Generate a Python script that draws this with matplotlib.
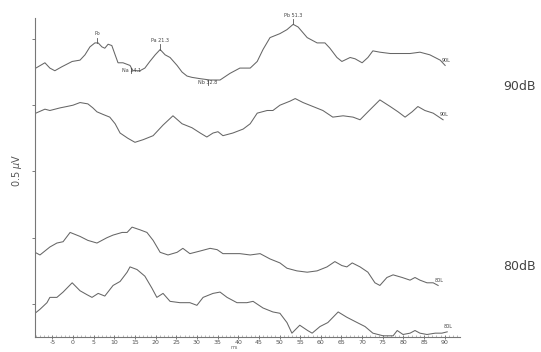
import matplotlib
matplotlib.use("Agg")
import matplotlib.pyplot as plt
import numpy as np

# latency (ms) and amplitude (uV, relative to each trace's baseline)
t_90a = [-9.0, -6.8, -5.6, -4.4, -2.7, -0.2, 1.7, 2.9, 4.1, 5.3, 6.1, 7.0, 7.7, 8.5, 9.4,
         10.2, 10.9, 12.1, 13.8, 14.5, 16.2, 17.4, 18.6, 19.9, 21.1, 22.3, 23.5, 25.2, 26.4,
         27.6, 28.8, 30.8, 33.2, 35.6, 38.0, 40.4, 42.9, 44.6, 46.0, 47.7, 50.1, 51.8, 53.3,
         54.5, 56.7, 59.1, 61.0, 62.2, 63.9, 65.1, 67.1, 68.3, 70.0, 71.4, 72.6, 74.3, 76.8,
         79.2, 81.6, 84.0, 86.4, 88.9, 90.1]
a_90a = [0.0, 0.04, 0.0, -0.02, 0.01, 0.05, 0.06, 0.10, 0.16, 0.19, 0.19, 0.16, 0.15, 0.18, 0.17,
         0.10, 0.04, 0.04, 0.02, -0.02, -0.02, 0.0, 0.05, 0.10, 0.14, 0.10, 0.08, 0.02, -0.03,
         -0.06, -0.07, -0.08, -0.09, -0.09, -0.04, 0.0, 0.0, 0.05, 0.14, 0.23, 0.26, 0.29, 0.33,
         0.31, 0.23, 0.19, 0.19, 0.15, 0.08, 0.05, 0.08, 0.07, 0.04, 0.08, 0.13, 0.12, 0.11,
         0.11, 0.11, 0.12, 0.10, 0.06, 0.02]

t_90b = [-9.0, -6.8, -5.6, -3.1, -1.5, 0.0, 1.7, 3.6, 4.8, 5.8, 7.3, 8.9, 10.2, 11.4, 13.3,
         15.0, 17.0, 19.4, 21.8, 24.2, 26.4, 28.8, 30.8, 32.4, 33.9, 35.1, 36.3, 38.7, 41.2,
         42.9, 44.6, 47.0, 48.4, 50.1, 52.5, 53.8, 55.7, 58.1, 60.5, 62.9, 65.4, 67.8, 69.5,
         71.4, 74.3, 76.8, 78.7, 80.4, 82.1, 83.5, 85.2, 87.2, 89.6]
a_90b = [0.0, 0.03, 0.02, 0.04, 0.05, 0.06, 0.08, 0.07, 0.04, 0.01, -0.01, -0.03, -0.08, -0.15,
         -0.19, -0.22, -0.20, -0.17, -0.09, -0.02, -0.08, -0.11, -0.15, -0.18, -0.15, -0.14,
         -0.17, -0.15, -0.12, -0.08, 0.0, 0.02, 0.02, 0.06, 0.09, 0.11, 0.08, 0.05, 0.02,
         -0.03, -0.02, -0.03, -0.05, 0.01, 0.10, 0.05, 0.01, -0.03, 0.01, 0.05, 0.02, 0.0, -0.05]

t_80a = [-9.2, -8.0, -5.6, -3.9, -2.4, -0.7, 1.7, 3.6, 5.8, 8.2, 9.7, 11.9, 13.1, 14.3, 16.2,
         17.9, 19.4, 21.1, 23.0, 25.2, 26.6, 28.3, 30.8, 33.2, 34.9, 36.3, 38.7, 40.4, 42.9,
         45.3, 47.7, 50.1, 51.8, 54.2, 56.7, 59.1, 61.5, 63.4, 65.1, 66.3, 67.6, 69.5, 71.4,
         73.1, 74.3, 76.0, 77.5, 79.7, 81.6, 82.8, 84.0, 85.7, 87.2, 88.4]
a_80a = [0.0, -0.02, 0.04, 0.07, 0.08, 0.15, 0.12, 0.09, 0.07, 0.11, 0.13, 0.15, 0.15, 0.19,
         0.17, 0.15, 0.09, 0.0, -0.02, 0.0, 0.03, -0.01, 0.01, 0.03, 0.02, -0.01, -0.01, -0.01,
         -0.02, -0.01, -0.05, -0.08, -0.12, -0.14, -0.15, -0.14, -0.11, -0.07, -0.10, -0.11,
         -0.08, -0.11, -0.15, -0.23, -0.25, -0.19, -0.17, -0.19, -0.21, -0.19, -0.21, -0.23,
         -0.23, -0.25]

t_80b = [-9.2, -8.0, -6.3, -5.6, -4.8, -3.9, -2.4, -0.2, 1.7, 3.4, 4.6, 6.1, 7.7, 9.7, 11.4,
         13.1, 13.8, 15.5, 17.4, 19.1, 20.3, 21.8, 23.5, 25.9, 28.3, 30.0, 31.5, 33.9, 35.6,
         37.3, 39.7, 42.1, 43.6, 46.0, 48.4, 50.1, 51.8, 53.0, 54.9, 56.8, 57.9, 59.8, 61.7,
         64.2, 66.3, 68.8, 70.7, 72.6, 75.1, 77.5, 78.5, 79.9, 81.6, 82.8, 84.0, 85.7, 87.7,
         89.3, 90.6]
a_80b = [-0.10, -0.07, -0.02, 0.02, 0.02, 0.02, 0.06, 0.13, 0.07, 0.04, 0.02, 0.05, 0.03, 0.11,
         0.14, 0.21, 0.25, 0.23, 0.18, 0.09, 0.02, 0.05, -0.01, -0.02, -0.02, -0.04, 0.02, 0.05,
         0.06, 0.02, -0.02, -0.02, -0.01, -0.06, -0.09, -0.10, -0.17, -0.25, -0.19, -0.23,
         -0.25, -0.20, -0.17, -0.09, -0.13, -0.17, -0.20, -0.25, -0.27, -0.27, -0.23, -0.26,
         -0.25, -0.23, -0.25, -0.26, -0.25, -0.25, -0.24]

offsets = [1.78, 1.44, 0.39, 0.03]
trace_names = ["90L", "90L", "80L", "80L"]
levels = ["90dB", "80dB"]

# peak marks on the top 90 dB trace
peak_names = ["Po", "Na", "Pa", "Nb", "Pb"]
peak_lat = [5.8, 14.1, 21.1, 32.7, 53.3]
peak_text = ["", "14.1", "21.3", "32.8", "51.3"]

x_ticks = list(range(-5, 95, 5))
y_ticks = [0.0, 0.5, 1.0, 1.5, 2.0]

fig = plt.figure(figsize=(5.41, 3.52), dpi=100)
ax = fig.add_axes([0.0647, 0.0426, 0.7856, 0.9063])

line_col = "#666666"
traces = [(t_90a, a_90a), (t_90b, a_90b), (t_80a, a_80a), (t_80b, a_80b)]
for (t, a), off, name in zip(traces, offsets, trace_names):
    y = np.array(a) + off
    ax.plot(t, y, color=line_col, lw=0.75, solid_joinstyle="round")
    ax.text(t[-1] + 0.3, y[-1] + 0.02, name, fontsize=3.5, color="#444444",
            ha="center", va="bottom")

# peak markers on the first trace
y_top = np.array(a_90a) + offsets[0]
for name, lat, txt in zip(peak_names, peak_lat, peak_text):
    yp = np.interp(lat, t_90a, y_top)
    up = name.startswith("P")
    ax.plot([lat, lat], [yp, yp + (0.04 if up else -0.04)], color="#555555", lw=0.6)
    if up:
        ax.text(lat, yp + 0.05, f"{name} {txt}".strip(), fontsize=3.5, color="#444444",
                ha="center", va="bottom")
    else:
        ax.text(lat, yp - 0.02, f"{name} {txt}", fontsize=3.5, color="#444444",
                ha="center", va="center")

ax.set_xlim(-9.2, 93.7)
ax.set_ylim(-0.249, 2.158)

for side in ["top", "right"]:
    ax.spines[side].set_visible(False)
for side in ["left", "bottom"]:
    ax.spines[side].set_color("#777777")
    ax.spines[side].set_linewidth(0.8)

ax.set_xticks(x_ticks)
ax.set_xticklabels([str(v) for v in x_ticks], fontsize=4.5, color="#555555")
ax.set_xticks(range(-9, 94), minor=True)
ax.tick_params(axis="x", which="major", direction="inout", length=3, width=0.6,
               color="#666666", pad=1)
ax.tick_params(axis="x", which="minor", direction="in", length=1.2, width=0.4,
               color="#888888")
ax.set_yticks(y_ticks)
ax.set_yticklabels([])
ax.tick_params(axis="y", direction="out", length=2, width=0.6, color="#666666")

ax.text(39, -0.33, "ms", fontsize=3.5, color="#666666", ha="center", va="center",
        clip_on=False)

fig.text(17 / 541, 1 - 170 / 352, "0.5 $\\mu$V", rotation=90, fontsize=7,
         color="#555555", ha="center", va="center")
fig.text(519 / 541, 1 - 86 / 352, levels[0], fontsize=9, color="#444444",
         ha="center", va="center")
fig.text(519 / 541, 1 - 266 / 352, levels[1], fontsize=9, color="#444444",
         ha="center", va="center")

fig.savefig("out.png", dpi=100)
